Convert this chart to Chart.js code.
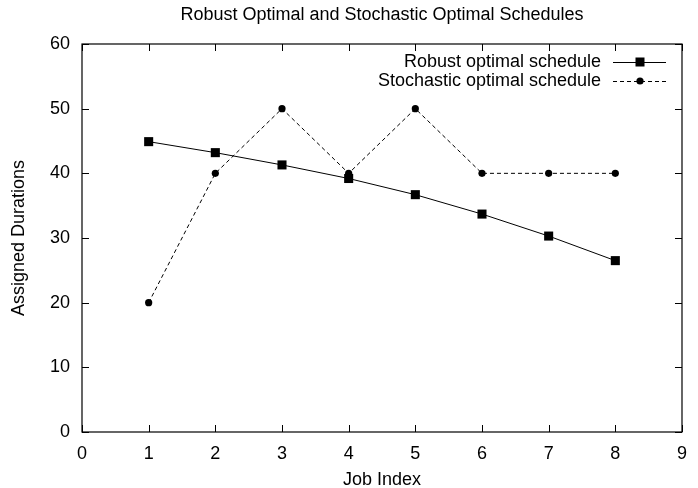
<!DOCTYPE html>
<html>
<head>
<meta charset="utf-8">
<script src="https://cdn.jsdelivr.net/npm/chart.js@4.4.0/dist/chart.umd.min.js"></script>
<style>
  html, body { margin: 0; padding: 0; background: #fff; }
  #wrap { width: 698px; height: 488px; }
</style>
</head>
<body>
<div id="wrap"><canvas id="scheduleChart"></canvas></div>
<script>
// data
const jobIndex = [1, 2, 3, 4, 5, 6, 7, 8];
const robustDurations = [44.9, 43.2, 41.3, 39.2, 36.7, 33.7, 30.3, 26.5];
const stochasticDurations = [20, 40, 50, 40, 50, 40, 40, 40];
const xTickValues = [0, 1, 2, 3, 4, 5, 6, 7, 8, 9];
const yTickValues = [0, 10, 20, 30, 40, 50, 60];
const seriesNames = ["Robust optimal schedule", "Stochastic optimal schedule"];
const chartTitle = "Robust Optimal and Stochastic Optimal Schedules";

const FONT = "'Liberation Sans', Arial, Helvetica, sans-serif";

// gnuplot-like frame: box border + inward ticks on all four sides + legend + title
const gnuplotFrame = {
    id: "gnuplotFrame",
    afterDraw(chart) {
        const { ctx, chartArea: a, scales } = chart;
        const tick = 7;
        ctx.save();
        ctx.strokeStyle = "#000";
        ctx.lineWidth = 1.2;
        ctx.strokeRect(a.left, a.top, a.right - a.left, a.bottom - a.top);

        ctx.lineWidth = 1;
        ctx.beginPath();
        xTickValues.forEach(v => {
            const px = Math.round(scales.x.getPixelForValue(v)) + 0.5;
            ctx.moveTo(px, a.bottom); ctx.lineTo(px, a.bottom - tick);
            ctx.moveTo(px, a.top); ctx.lineTo(px, a.top + tick);
        });
        yTickValues.forEach(v => {
            const py = Math.round(scales.y.getPixelForValue(v)) + 0.5;
            ctx.moveTo(a.left, py); ctx.lineTo(a.left + tick, py);
            ctx.moveTo(a.right, py); ctx.lineTo(a.right - tick, py);
        });
        ctx.stroke();

        ctx.font = "18px " + FONT;
        ctx.fillStyle = "#000";
        ctx.textBaseline = "middle";

        // title centred over the plot area
        ctx.textAlign = "center";
        ctx.fillText(chartTitle, (a.left + a.right) / 2, 15.5);

        // legend: text right aligned, then line sample with marker
        ctx.textAlign = "right";
        const textRight = 601, lineL = 613, lineR = 666, mark = 640;
        const rows = [62, 81];
        chart.data.datasets.forEach((ds, i) => {
            const y = rows[i];
            ctx.fillText(seriesNames[i], textRight, y);
            ctx.setLineDash(ds.borderDash || []);
            ctx.beginPath();
            ctx.moveTo(lineL, y + 0.5); ctx.lineTo(lineR, y + 0.5);
            ctx.stroke();
            ctx.setLineDash([]);
            if (ds.pointStyle === "rect") {
                ctx.fillRect(mark - 4.5, y - 4.5, 9, 9);
            } else {
                ctx.beginPath();
                ctx.arc(mark, y, 3.6, 0, Math.PI * 2);
                ctx.fill();
            }
        });
        ctx.restore();
    }
};

const ctx = document.getElementById("scheduleChart").getContext("2d");
new Chart(ctx, {
    type: "line",
    data: {
        datasets: [
            {
                label: seriesNames[0],
                data: jobIndex.map((x, i) => ({ x: x, y: robustDurations[i] })),
                borderColor: "#000",
                backgroundColor: "#000",
                borderWidth: 1,
                pointStyle: "rect",
                pointRadius: 6.4,
                pointBorderWidth: 0,
                tension: 0,
                fill: false
            },
            {
                label: seriesNames[1],
                data: jobIndex.map((x, i) => ({ x: x, y: stochasticDurations[i] })),
                borderColor: "#000",
                backgroundColor: "#000",
                borderWidth: 1,
                borderDash: [4, 3],
                pointStyle: "circle",
                pointRadius: 3.6,
                pointBorderWidth: 0,
                tension: 0,
                fill: false
            }
        ]
    },
    options: {
        responsive: true,
        maintainAspectRatio: false,
        animation: false,
        layout: { padding: { left: 0, right: 10, top: 44, bottom: 0 } },
        plugins: {
            legend: { display: false },
            tooltip: { enabled: false },
            title: { display: false }
        },
        scales: {
            x: {
                type: "linear",
                min: 0,
                max: 9,
                afterBuildTicks: scale => { scale.ticks = xTickValues.map(v => ({ value: v })); },
                afterFit: scale => { scale.height = 56; },
                grid: { display: false, drawTicks: false },
                border: { display: false },
                ticks: { color: "#000", padding: 11, font: { family: FONT, size: 18 }, maxRotation: 0 },
                title: {
                    display: true,
                    text: "Job Index",
                    color: "#000",
                    font: { family: FONT, size: 18, lineHeight: 0.83 },
                    padding: { top: 0, bottom: 0 }
                }
            },
            y: {
                min: 0,
                max: 60,
                afterBuildTicks: scale => { scale.ticks = yTickValues.map(v => ({ value: v })); },
                afterFit: scale => { scale.width = 82; },
                grid: { display: false, drawTicks: false },
                border: { display: false },
                ticks: { color: "#000", padding: 12, font: { family: FONT, size: 18 } },
                title: {
                    display: true,
                    text: "Assigned Durations",
                    color: "#000",
                    font: { family: FONT, size: 18 },
                    padding: { top: 8, bottom: 0 }
                }
            }
        }
    },
    plugins: [gnuplotFrame]
});
</script>
</body>
</html>
